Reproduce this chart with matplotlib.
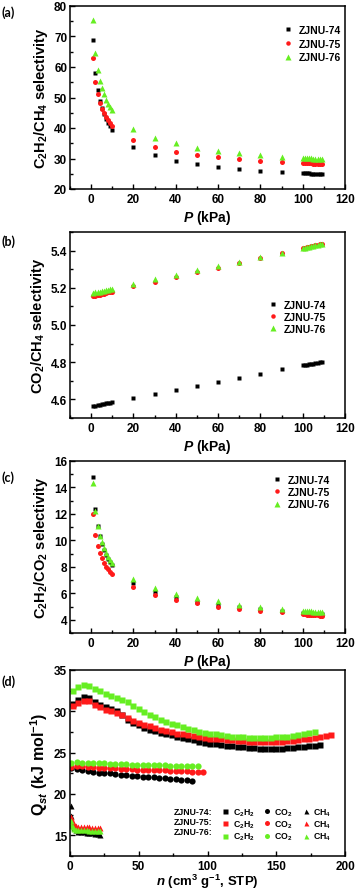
import numpy as np
import matplotlib
matplotlib.use('Agg')
import matplotlib.pyplot as plt
from matplotlib.lines import Line2D
from matplotlib.ticker import MultipleLocator

plt.rcParams.update({
    'font.family': 'Liberation Sans',
    'font.weight': 'bold',
    'axes.labelweight': 'bold',
    'mathtext.fontset': 'custom',
    'mathtext.rm': 'Liberation Sans:bold',
    'mathtext.it': 'Liberation Sans:italic:bold',
    'mathtext.bf': 'Liberation Sans:bold',
    'xtick.direction': 'in',
    'ytick.direction': 'in',
    'xtick.major.size': 3.5,
    'ytick.major.size': 3.5,
    'xtick.minor.size': 2,
    'ytick.minor.size': 2,
    'xtick.major.width': 1,
    'ytick.major.width': 1,
    'xtick.minor.width': 1,
    'ytick.minor.width': 1,
    'axes.linewidth': 1.1,
})

names = ['ZJNU-74', 'ZJNU-75', 'ZJNU-76']
colors = ['#000000', '#ff1a1a', '#66ee22']
markers = ['s', 'o', '^']
msizes = [3.2, 3.6, 4.2]

# -- pressure grid (kPa) for panels a-c
P = [1, 2, 3, 4, 5, 6, 7, 8, 9, 10, 20, 30, 40, 50, 60, 70, 80, 90,
     100, 101, 102, 103, 104, 105, 106, 107, 108, 109]

# -- (a) C2H2/CH4 selectivity
sel_a = [
    [69.0, 58.0, 52.5, 49.0, 46.5, 44.5, 43.0, 41.5, 40.5, 39.5, 33.8, 31.0, 29.3, 28.1, 27.2, 26.5, 26.0, 25.5,
     25.2, 25.2, 25.1, 25.1, 25.0, 25.0, 25.0, 24.9, 24.9, 24.9],
    [63.0, 55.0, 51.0, 48.2, 46.3, 44.8, 43.5, 42.5, 41.5, 40.7, 36.0, 33.7, 32.2, 31.2, 30.4, 29.7, 29.2, 28.8,
     28.5, 28.5, 28.4, 28.4, 28.4, 28.3, 28.3, 28.3, 28.2, 28.2],
    [75.5, 64.5, 59.0, 55.5, 53.0, 51.0, 49.3, 48.0, 46.8, 45.8, 39.8, 36.8, 35.0, 33.6, 32.6, 31.8, 31.1, 30.6,
     30.2, 30.2, 30.1, 30.1, 30.1, 30.0, 30.0, 30.0, 29.9, 29.9],
]

# -- (b) CO2/CH4 selectivity
sel_b = [
    [4.565, 4.567, 4.569, 4.571, 4.574, 4.576, 4.578, 4.580, 4.582, 4.585,
     4.607, 4.630, 4.652, 4.673, 4.695, 4.717, 4.739, 4.761,
     4.783, 4.785, 4.787, 4.789, 4.791, 4.793, 4.795, 4.797, 4.799, 4.801],
    [5.155, 5.158, 5.161, 5.163, 5.166, 5.169, 5.172, 5.175, 5.177, 5.180,
     5.207, 5.233, 5.259, 5.284, 5.309, 5.335, 5.360, 5.387,
     5.413, 5.415, 5.418, 5.420, 5.423, 5.425, 5.428, 5.430, 5.433, 5.435],
    [5.172, 5.175, 5.177, 5.180, 5.182, 5.185, 5.187, 5.190, 5.192, 5.195,
     5.222, 5.246, 5.270, 5.294, 5.318, 5.341, 5.365, 5.389,
     5.414, 5.416, 5.419, 5.421, 5.424, 5.426, 5.428, 5.430, 5.433, 5.435],
]

# -- (c) C2H2/CO2 selectivity
sel_c = [
    [14.8, 12.4, 11.1, 10.3, 9.7, 9.25, 8.9, 8.6, 8.35, 8.15, 6.8, 6.1, 5.7, 5.35, 5.15, 4.95, 4.8, 4.65,
     4.50, 4.49, 4.48, 4.47, 4.46, 4.45, 4.44, 4.43, 4.42, 4.41],
    [12.0, 10.4, 9.6, 9.05, 8.65, 8.3, 8.0, 7.8, 7.6, 7.45, 6.45, 5.9, 5.5, 5.25, 5.0, 4.85, 4.68, 4.55,
     4.42, 4.41, 4.39, 4.38, 4.37, 4.36, 4.34, 4.33, 4.32, 4.31],
    [14.3, 12.2, 11.1, 10.35, 9.85, 9.4, 9.05, 8.75, 8.5, 8.3, 7.05, 6.4, 5.95, 5.65, 5.4, 5.15, 4.98, 4.82,
     4.68, 4.67, 4.65, 4.64, 4.63, 4.61, 4.60, 4.59, 4.57, 4.56],
]

# -- (d) isosteric heats, n in cm3/g STP
n_c2h2 = [2, 6, 10, 14, 18, 22, 26, 30, 34, 38, 42, 46, 50, 54, 58, 62, 66, 70, 74, 78, 82, 86, 90, 94,
          98, 102, 106, 110, 114, 118, 122, 126, 130, 134, 138, 142, 146, 150, 154, 158, 162, 166, 170,
          174, 178, 182, 186, 190]
q_c2h2 = [
    [30.9, 31.4, 31.7, 31.6, 31.1, 30.8, 30.5, 30.3, 30.0, 29.6, 29.0, 28.6, 28.3, 28.0, 27.8, 27.6, 27.4,
     27.25, 27.1, 26.95, 26.8, 26.65, 26.5, 26.35, 26.2, 26.1, 26.0, 25.9, 25.8, 25.75, 25.7, 25.65, 25.6,
     25.55, 25.5, 25.5, 25.5, 25.5, 25.5, 25.55, 25.6, 25.65, 25.7, 25.75, 25.85, 25.9],
    [30.7, 31.0, 31.2, 31.2, 30.8, 30.5, 30.2, 30.0, 29.8, 29.6, 29.2, 28.8, 28.6, 28.4, 28.2, 28.0, 27.8,
     27.6, 27.45, 27.3, 27.2, 27.1, 27.0, 26.9, 26.8, 26.7, 26.65, 26.6, 26.55, 26.5, 26.45, 26.4, 26.35,
     26.3, 26.3, 26.3, 26.3, 26.3, 26.35, 26.4, 26.45, 26.5, 26.6, 26.7, 26.8, 26.9, 27.0, 27.1],
    [32.4, 32.9, 33.2, 33.1, 32.7, 32.4, 32.1, 31.8, 31.6, 31.4, 31.1, 30.7, 30.3, 29.9, 29.6, 29.3, 29.0,
     28.7, 28.5, 28.3, 28.1, 27.9, 27.7, 27.55, 27.4, 27.3, 27.2, 27.1, 27.0, 26.95, 26.9, 26.85, 26.8,
     26.8, 26.8, 26.8, 26.8, 26.85, 26.9, 26.95, 27.0, 27.1, 27.2, 27.35, 27.5],
]

n_co2 = [1, 5, 9, 13, 17, 21, 25, 29, 33, 37, 41, 45, 49, 53, 57, 61, 65, 69, 73, 77, 81, 85, 89, 93, 97]
q_co2 = [
    [23.1, 23.0, 22.9, 22.8, 22.7, 22.6, 22.55, 22.5, 22.4, 22.35, 22.3, 22.2, 22.15, 22.1, 22.05, 22.0,
     21.95, 21.9, 21.85, 21.8, 21.75, 21.65, 21.6],
    [23.3, 23.4, 23.35, 23.3, 23.25, 23.2, 23.15, 23.15, 23.1, 23.05, 23.05, 23.0, 22.95, 22.95, 22.9, 22.9,
     22.85, 22.85, 22.8, 22.8, 22.75, 22.75, 22.7, 22.7, 22.7],
    [23.8, 23.85, 23.8, 23.75, 23.75, 23.7, 23.7, 23.65, 23.65, 23.6, 23.6, 23.55, 23.55, 23.5, 23.5, 23.45,
     23.45, 23.45, 23.4, 23.4, 23.4, 23.35, 23.35, 23.35],
]

n_ch4 = [0.5, 1, 2, 3, 4, 6, 8, 10, 12, 14, 16, 18, 20, 22]
q_ch4 = [
    [18.5, 17.3, 16.3, 15.9, 15.6, 15.45, 15.4, 15.35, 15.3, 15.3, 15.25, 15.2, 15.15, 15.1],
    [17.2, 17.0, 16.6, 16.3, 16.15, 16.05, 16.0, 16.0, 15.95, 15.95, 15.9, 15.9, 15.85, 15.85],
    [16.7, 16.3, 16.0, 15.8, 15.7, 15.65, 15.6, 15.6, 15.6, 15.55, 15.55, 15.55, 15.55, 15.5],
]

W, H = 358, 895
fig = plt.figure(figsize=(W / 100, H / 100), dpi=100)


def make_ax(top, bottom, left=70, right=345):
    return fig.add_axes([left / W, 1 - bottom / H, (right - left) / W, (bottom - top) / H])


def style(ax, xmaj, xmin, ymaj, ymin):
    ax.xaxis.set_major_locator(MultipleLocator(xmaj))
    ax.xaxis.set_minor_locator(MultipleLocator(xmin))
    ax.yaxis.set_major_locator(MultipleLocator(ymaj))
    ax.yaxis.set_minor_locator(MultipleLocator(ymin))
    ax.tick_params(labelsize=8.5, pad=3)
    ax.tick_params(axis='y', pad=2)


def sel_panel(ax, data, ylabel, ylim, ymaj, ymin, leg_anchor, lspace):
    for k in range(3):
        ax.plot(P, data[k], linestyle='none', marker=markers[k], ms=msizes[k],
                color=colors[k], mec='none', label=names[k])
    ax.set_xlim(-10, 120)
    ax.set_ylim(*ylim)
    style(ax, 20, 10, ymaj, ymin)
    ax.set_xlabel('$P$ (kPa)', fontsize=10, labelpad=2, fontweight='bold')
    ax.set_ylabel(ylabel, fontsize=10.5, labelpad=3, fontweight='bold')
    ax.legend(loc='upper left', bbox_to_anchor=leg_anchor, frameon=False,
              prop={'family': 'Liberation Sans', 'weight': 'bold', 'size': 7.5},
              handlelength=0.8, handletextpad=0.6, labelspacing=lspace, borderpad=0, markerscale=0.9)


ax_a = make_ax(7, 190)
sel_panel(ax_a, sel_a, 'C$_2$H$_2$/CH$_4$ selectivity', (20, 80), 10, 5, (0.76, 0.925), 0.35)

ax_b = make_ax(233, 419)
sel_panel(ax_b, sel_b, 'CO$_2$/CH$_4$ selectivity', (4.5, 5.5), 0.2, 0.1, (0.705, 0.665), 0.22)
ax_b.yaxis.set_major_formatter(plt.FormatStrFormatter('%.1f'))

ax_c = make_ax(462, 634)
sel_panel(ax_c, sel_c, 'C$_2$H$_2$/CO$_2$ selectivity', (3, 16), 2, 1, (0.72, 0.95), 0.22)

ax_d = make_ax(671, 857)
gas_markers = ['s', 'o', '^']
for k in range(3):
    ax_d.plot(n_c2h2[:len(q_c2h2[k])], q_c2h2[k], linestyle='none', marker='s', ms=4.3,
              color=colors[k], mec='none')
    ax_d.plot(n_co2[:len(q_co2[k])], q_co2[k], linestyle='none', marker='o', ms=4.5,
              color=colors[k], mec='none')
    ax_d.plot(n_ch4, q_ch4[k], linestyle='none', marker='^', ms=4.5,
              color=colors[k], mec='none')
ax_d.set_xlim(0, 200)
ax_d.set_ylim(12.5, 35)
style(ax_d, 50, 25, 5, 2.5)
ax_d.set_xlabel('$n$ (cm$^3$ g$^{-1}$, STP)', fontsize=9.5, labelpad=0, fontweight='bold')
ax_d.set_ylabel('Q$_{st}$ (kJ mol$^{-1}$)', fontsize=11.5, labelpad=3, fontweight='bold')

blank = Line2D([], [], linestyle='none')
handles = [blank] * 3
labels = [nm + ':' for nm in names]
for gm, gl in zip(gas_markers, ['C$_2$H$_2$', 'CO$_2$', 'CH$_4$']):
    for k in range(3):
        handles.append(Line2D([], [], linestyle='none', marker=gm, ms=3.6, color=colors[k], mec='none'))
        labels.append(gl)
ax_d.legend(handles, labels, ncol=4, loc='lower right', bbox_to_anchor=(0.965, 0.05), frameon=False,
            prop={'family': 'Liberation Sans', 'weight': 'bold', 'size': 6.3},
            handlelength=0.7, handletextpad=0.5, columnspacing=1.1,
            labelspacing=0.1, borderpad=0)

for ax in (ax_a, ax_b, ax_c, ax_d):
    fig.canvas.draw()
    for lbl in ax.get_xticklabels() + ax.get_yticklabels():
        lbl.set_fontweight('bold')

for lab, y in zip(['(a)', '(b)', '(c)', '(d)'], [13, 242, 478, 682]):
    fig.text(1 / W, 1 - y / H, lab, fontsize=9, fontweight='bold', family='Lato', va='center', ha='left')

fig.savefig('out.png', dpi=100)
